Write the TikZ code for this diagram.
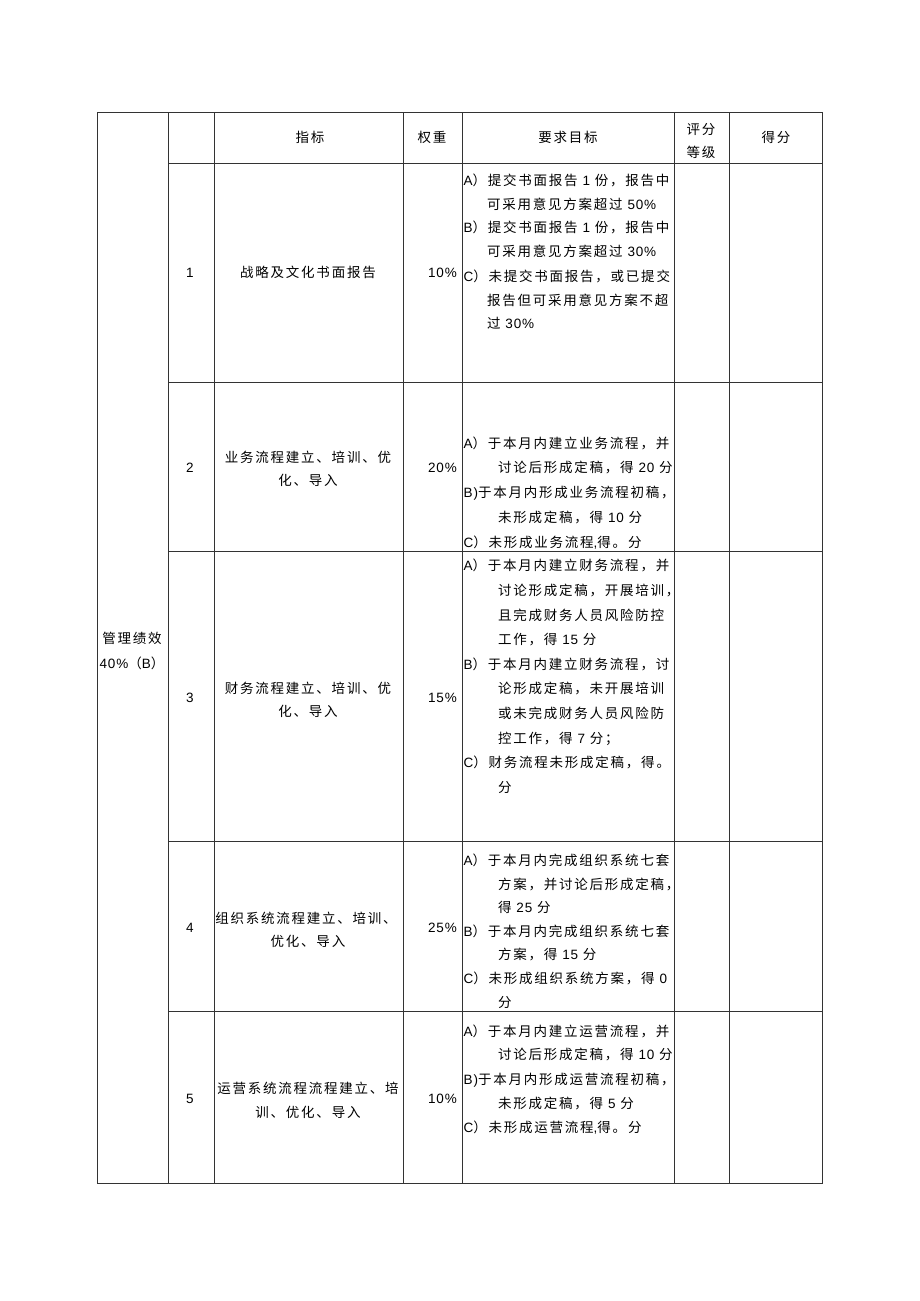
\documentclass[tikz,border=0pt]{standalone}
\usepackage{fontspec}
\setmainfont[LetterSpace=13]{Noto Sans CJK SC}
\newfontfamily\enf[LetterSpace=6]{Liberation Sans}
\newcommand\en[1]{{\enf #1}}
\tikzset{
  grid/.style={draw=black!80, line width=0.8pt},
  req/.style={anchor=base west, inner sep=0pt},
  ctr/.style={anchor=base, inner sep=0pt},
  rgt/.style={anchor=base east, inner sep=0pt},
}
\begin{document}
\begin{tikzpicture}[x=1pt,y=-1pt,font=\fontsize{13.5}{16}\selectfont]
\useasboundingbox (0,0) rectangle (920,1301);
% grid
\draw[grid] (97,112) rectangle (822,1183);
\foreach \x in {168,214,403,462,674,729} \draw[grid] (\x,112) -- (\x,1183);
\foreach \y in {163,382,551,841,1011} \draw[grid] (168,\y) -- (822,\y);
% header
\node[ctr] (h1) at (310,142) {指标};
\node[ctr] (h2) at (432,142) {权重};
\node[ctr] (h3) at (568,142) {要求目标};
\node[ctr] (h4a) at (701,134) {评分};
\node[ctr] (h4b) at (701,157) {等级};
\node[ctr] (h5) at (776,142) {得分};
% left category
\node[ctr] (cat1) at (132,643) {管理绩效};
\node[ctr] (cat2) at (132,668) {\en{40\%}（\en{B}）};
% numbers, indicators, weights
\foreach \n/\y in {1/277,2/472,3/702,4/932,5/1103}
  \node[ctr] (no\n) at (190,\y) {\en{\n}};
\node[ctr] (ind1) at (308,277) {战略及文化书面报告};
\node[ctr] (ind2a) at (308,462) {业务流程建立、培训、优};
\node[ctr] (ind2b) at (308,485) {化、导入};
\node[ctr] (ind3a) at (308,693) {财务流程建立、培训、优};
\node[ctr] (ind3b) at (308,716) {化、导入};
\node[ctr] (ind4a) at (306,923) {组织系统流程建立、培训、};
\node[ctr] (ind4b) at (308,946) {优化、导入};
\node[ctr] (ind5a) at (308,1093) {运营系统流程流程建立、培};
\node[ctr] (ind5b) at (308,1117) {训、优化、导入};
\foreach \n/\y/\w in {1/277/10,2/472/20,3/702/15,4/932/25,5/1103/10}
  \node[rgt] (wt\n) at (457,\y) {\en{\w\%}};
% requirements
\foreach \y/\x/\t [count=\i] in {
  180/463.5/{\en{A}）提交书面报告 \en{1} 份，报告中},
  204/487/{可采用意见方案超过 \en{50\%}},
  227/463.5/{\en{B}）提交书面报告 \en{1} 份，报告中},
  251/487/{可采用意见方案超过 \en{30\%}},
  276/463.5/{\en{C}）未提交书面报告，或已提交},
  300/487/{报告但可采用意见方案不超},
  323/487/{过 \en{30\%}}}
  \node[req] (ra\i) at (\x,\y+5) {\t};
\foreach \y/\x/\t [count=\i] in {
  443/463.5/{\en{A}）于本月内建立业务流程，并},
  467/498/{讨论后形成定稿，得 \en{20} 分},
  492/463.5/{\en{B)}于本月内形成业务流程初稿，},
  517/498/{未形成定稿，得 \en{10} 分},
  542/463.5/{\en{C}）未形成业务流程\en{,}得。分}}
  \node[req] (rb\i) at (\x,\y+5) {\t};
\foreach \y/\x/\t [count=\i] in {
  565/463.5/{\en{A}）于本月内建立财务流程，并},
  590/498/{讨论形成定稿，开展培训，},
  615/498/{且完成财务人员风险防控},
  639/498/{工作，得 \en{15} 分},
  664/463.5/{\en{B}）于本月内建立财务流程，讨},
  688/498/{论形成定稿，未开展培训},
  713/498/{或未完成财务人员风险防},
  738/498/{控工作，得 \en{7} 分；},
  762/463.5/{\en{C}）财务流程未形成定稿，得。},
  787/498/{分}}
  \node[req] (rc\i) at (\x,\y+5) {\t};
\foreach \y/\x/\t [count=\i] in {
  860/463.5/{\en{A}）于本月内完成组织系统七套},
  884/498/{方案，并讨论后形成定稿，},
  907/498/{得 \en{25} 分},
  931/463.5/{\en{B}）于本月内完成组织系统七套},
  954/498/{方案，得 \en{15} 分},
  978/463.5/{\en{C}）未形成组织系统方案，得 \en{0}},
  1002/498/{分}}
  \node[req] (rd\i) at (\x,\y+5) {\t};
\foreach \y/\x/\t [count=\i] in {
  1031/463.5/{\en{A}）于本月内建立运营流程，并},
  1054/498/{讨论后形成定稿，得 \en{10} 分},
  1079/463.5/{\en{B)}于本月内形成运营流程初稿，},
  1103/498/{未形成定稿，得 \en{5} 分},
  1127/463.5/{\en{C}）未形成运营流程\en{,}得。分}}
  \node[req] (re\i) at (\x,\y+5) {\t};
\end{tikzpicture}
\end{document}
